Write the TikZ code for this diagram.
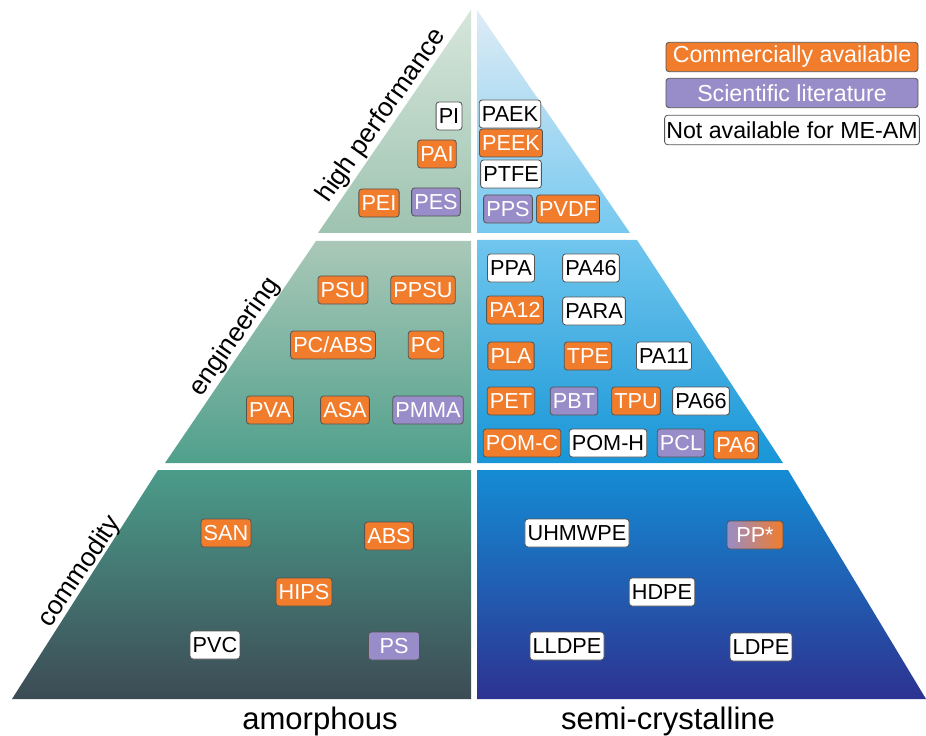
\documentclass[tikz,border=0pt]{standalone}
\usepackage{fontspec}
\setmainfont{Liberation Sans}
\definecolor{comm}{RGB}{241,124,44}
\definecolor{sci}{RGB}{152,141,200}
\definecolor{edgegrey}{RGB}{85,85,85}

\begin{document}
\begin{tikzpicture}[x=0.03cm, y=-0.03cm,
    poly/.style={rounded corners=2.5pt, draw=edgegrey, line width=0.7pt,
                 minimum height=0.84cm, inner xsep=0.08cm, inner ysep=0pt,
                 font=\fontsize{18.5}{20}\selectfont},
    combox/.style={poly, fill=comm, text=white},
    scibox/.style={poly, fill=sci, text=white},
    nabox/.style={poly, fill=white, text=black},
    keybox/.style={minimum width=7.56cm, minimum height=0.88cm, inner xsep=0.05cm,
                   font=\fontsize{19.8}{21}\selectfont},
    tier/.style={font=\fontsize{22.5}{24}\selectfont, inner sep=0pt},
    kind/.style={font=\fontsize{26.5}{28}\selectfont, inner sep=0pt}]
                      \useasboundingbox (0, 0) rectangle (926, 736);
                      % amorphous half
                      \shade[top color={rgb,255:red,214;green,230;blue,218}, bottom color={rgb,255:red,158;green,195;blue,176}]
                          (471, 10) -- (471, 233) -- (318, 233) -- cycle;
                      \shade[top color={rgb,255:red,170;green,200;blue,184}, bottom color={rgb,255:red,80;green,160;blue,140}]
                          (316, 241) -- (471, 241) -- (471, 463) -- (165, 463) -- cycle;
                      \shade[top color={rgb,255:red,75;green,156;blue,138}, bottom color={rgb,255:red,60;green,75;blue,85}]
                          (158, 470) -- (471, 470) -- (471, 699) -- (12, 699) -- cycle;
                      % semi-crystalline half
                      \shade[top color={rgb,255:red,222;green,236;blue,245}, bottom color={rgb,255:red,118;green,200;blue,240}]
                          (477, 10) -- (630, 233) -- (477, 233) -- cycle;
                      \shade[top color={rgb,255:red,112;green,198;blue,238}, bottom color={rgb,255:red,24;green,150;blue,215}]
                          (477, 240) -- (637, 240) -- (783, 463) -- (477, 463) -- cycle;
                      \shade[top color={rgb,255:red,20;green,140;blue,212}, middle color={rgb,255:red,12;green,92;blue,172}, bottom color={rgb,255:red,45;green,50;blue,145}]
                          (477, 470) -- (788, 470) -- (926, 699) -- (477, 699) -- cycle;
                      % tier labels
                      \node[tier, rotate=55] (lblhigh) at (382, 116) {high performance};
                      \node[tier, rotate=55] (lbleng) at (235, 337) {engineering};
                      \node[tier, rotate=56] (lblcom) at (80, 572) {commodity};
                      \node[kind, anchor=base] (lblamo) at (320, 729) {amorphous};
                      \node[kind, anchor=base] (lblsemi) at (668, 729) {semi-crystalline};
                      % legend
                      \node[combox, keybox] (keycomm) at (792, 57) {Commercially available};
                      \node[scibox, keybox] (keysci) at (792, 93) {Scientific literature};
                      \node[nabox, keybox] (keyna) at (792, 130) {Not available for ME-AM};
                      % high performance
                      \node[nabox] (pi) at (449, 116) {PI};
                      \node[combox] (pai) at (437, 154) {PAI};
                      \node[combox] (pei) at (379, 203) {PEI};
                      \node[scibox] (pes) at (436, 202) {PES};
                      \node[nabox] (paek) at (510, 114) {PAEK};
                      \node[combox] (peek) at (511, 143) {PEEK};
                      \node[nabox] (ptfe) at (511, 174) {PTFE};
                      \node[scibox] (pps) at (508, 209) {PPS};
                      \node[combox] (pvdf) at (568, 209) {PVDF};
                      % engineering
                      \node[combox] (psu) at (343, 290) {PSU};
                      \node[combox] (ppsu) at (423, 290) {PPSU};
                      \node[combox] (pcabs) at (333, 345) {PC/ABS};
                      \node[combox] (pc) at (426, 345) {PC};
                      \node[combox] (pva) at (270, 410) {PVA};
                      \node[combox] (asa) at (345, 410) {ASA};
                      \node[scibox] (pmma) at (428, 410) {PMMA};
                      \node[nabox] (ppa) at (511, 268) {PPA};
                      \node[nabox] (pafs) at (591, 268) {PA46};
                      \node[combox] (pat) at (515, 310) {PA12};
                      \node[nabox] (para) at (594, 311) {PARA};
                      \node[combox] (pla) at (511, 356) {PLA};
                      \node[combox] (tpe) at (588, 356) {TPE};
                      \node[nabox] (pae) at (664, 356) {PA11};
                      \node[combox] (pet) at (511, 401) {PET};
                      \node[scibox] (pbt) at (574, 401) {PBT};
                      \node[combox] (tpu) at (636, 401) {TPU};
                      \node[nabox] (pass) at (701, 401) {PA66};
                      \node[combox] (pomc) at (522, 443) {POM-C};
                      \node[nabox] (pomh) at (608, 443) {POM-H};
                      \node[scibox] (pcl) at (681, 443) {PCL};
                      \node[combox] (pas) at (736, 445) {PA6};
                      % commodity
                      \node[combox] (san) at (226, 533) {SAN};
                      \node[combox] (abs) at (389, 536) {ABS};
                      \node[combox] (hips) at (304, 592) {HIPS};
                      \node[nabox] (pvc) at (215, 645) {PVC};
                      \node[scibox, minimum width=1.53cm] (ps) at (394, 646) {PS};
                      \node[nabox] (uhmwpe) at (577, 533) {UHMWPE};
                      \node[poly, left color=sci, right color=comm, text=white, minimum width=1.68cm] (pp) at (755, 535) {PP*};
                      \node[nabox] (hdpe) at (662, 592) {HDPE};
                      \node[nabox] (lldpe) at (567, 646) {LLDPE};
                      \node[nabox] (ldpe) at (761, 647) {LDPE};
\end{tikzpicture}
\end{document}
